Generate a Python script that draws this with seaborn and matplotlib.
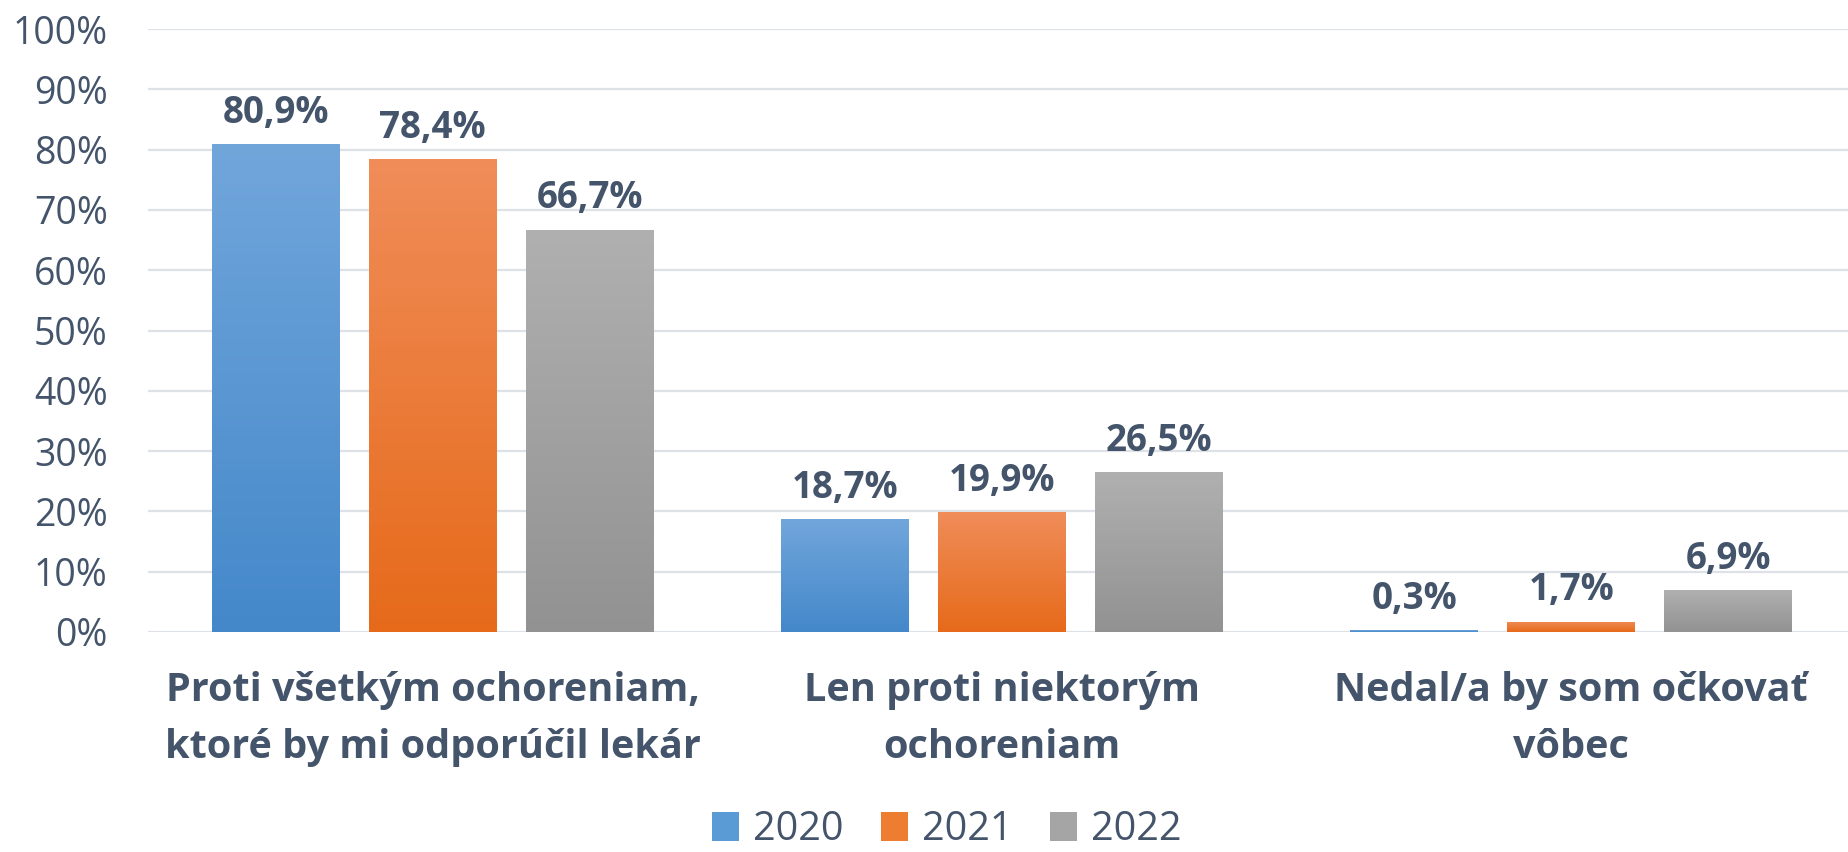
import numpy as np
import pandas as pd
import matplotlib
matplotlib.use("Agg")
import matplotlib.pyplot as plt
import matplotlib.colors as mcolors
import seaborn as sns

categories = ["Proti všetkým ochoreniam,\nktoré by mi odporúčil lekár",
              "Len proti niektorým\nochoreniam",
              "Nedal/a by som očkovať\nvôbec"]
years = ["2020", "2021", "2022"]
values_2020 = [80.9, 18.7, 0.3]
values_2021 = [78.4, 19.9, 1.7]
values_2022 = [66.7, 26.5, 6.9]
ytick_values = [0, 10, 20, 30, 40, 50, 60, 70, 80, 90, 100]

grad_top = {"2020": "#71A6DB", "2021": "#F08D59", "2022": "#B0B0B0"}
grad_bot = {"2020": "#4488CA", "2021": "#E66A1A", "2022": "#929292"}
mid_col = {"2020": "#5B9BD5", "2021": "#ED7D31", "2022": "#A5A5A5"}
TXT = "#44546A"
GRID = "#DDE2E9"

rows = []
for yr, vals in zip(years, [values_2020, values_2021, values_2022]):
    for c, v in zip(categories, vals):
        rows.append({"cat": c, "year": yr, "val": v / 100.0})
df = pd.DataFrame(rows)

sns.set_theme(style="white")
plt.rcParams["font.family"] = ["Open Sans", "DejaVu Sans"]

W, H = 1849, 852
fig = plt.figure(figsize=(W / 100, H / 100), dpi=100)
ax = fig.add_axes([148 / W, (H - 632) / H, 1708 / W, 603 / H])

sns.barplot(data=df, x="cat", y="val", hue="year", order=categories,
            hue_order=years, palette=mid_col, width=0.827, gap=0.185,
            saturation=1, ax=ax, errorbar=None, zorder=3, linewidth=0)

handles, labels = ax.get_legend_handles_labels()
if ax.legend_ is not None:
    ax.legend_.remove()

# gradient fills per bar
for cont, yr in zip(ax.containers, years):
    top = np.array(mcolors.to_rgb(grad_top[yr]))
    bot = np.array(mcolors.to_rgb(grad_bot[yr]))
    t = np.linspace(0, 1, 256)[:, None]
    grad = (top[None, :] * (1 - t) + bot[None, :] * t)[:, None, :]
    for patch in cont.patches:
        x0 = patch.get_x(); w = patch.get_width()
        y0 = patch.get_y(); h = patch.get_height()
        im = ax.imshow(grad, extent=[x0, x0 + w, y0, y0 + h], aspect="auto",
                       origin="upper", zorder=3.5, interpolation="bilinear")
        im.set_clip_path(patch)
    labs = [f"{v * 100:.1f}%".replace(".", ",") for v in cont.datavalues]
    ax.bar_label(cont, labels=labs, padding=9, fontsize=26.5, fontweight="bold",
                 color=TXT, zorder=5)

ax.set_xlim(-0.5, 2.5)
ax.set_ylim(0, 1)
ax.set_yticks([v / 100 for v in ytick_values])
ax.set_yticklabels([f"{v}%" for v in ytick_values])
ax.set_xlabel("")
ax.set_ylabel("")
ax.yaxis.grid(True, color=GRID, linewidth=1.6, zorder=0)
ax.set_axisbelow(True)
for s in ax.spines.values():
    s.set_visible(False)
ax.axhline(0, color=GRID, linewidth=1.8, zorder=2)
ax.tick_params(axis="y", length=0, pad=29, labelsize=27, labelcolor=TXT)
ax.tick_params(axis="x", length=0, pad=28, labelsize=28.5, labelcolor=TXT)
for lab in ax.get_xticklabels():
    lab.set_fontweight("bold")
    lab.set_linespacing(1.6)

fig.legend(handles, labels, loc="center", bbox_to_anchor=(0.512, 0.026),
           ncol=3, frameon=False, fontsize=28.5, labelcolor=TXT,
           handlelength=0.68, handleheight=0.74, handletextpad=0.35,
           columnspacing=0.95, borderaxespad=0, borderpad=0)

fig.savefig("out.png", dpi=100)
